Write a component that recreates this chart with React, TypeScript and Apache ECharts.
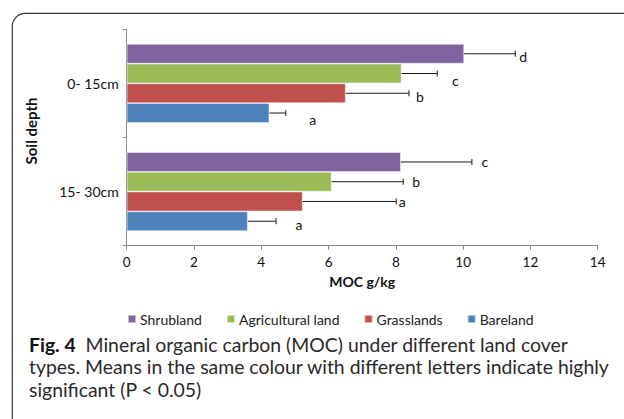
import React, { useEffect, useRef } from "react";
import * as echarts from "echarts";

// Categories from bottom to top on the y axis
const categories = ["15- 30cm", "0- 15cm"];
const seriesNames = ["Shrubland", "Agricultural land", "Grasslands", "Bareland"];
const colors = ["#8064A2", "#9BBB59", "#C0504D", "#4F81BD"];

// Means (MOC g/kg), indexed like categories
const shrubland = [8.15, 10.03];
const agricultural = [6.09, 8.17];
const grasslands = [5.23, 6.51];
const bareland = [3.6, 4.24];

// Upper error (standard deviation)
const shrublandErr = [2.11, 1.52];
const agriculturalErr = [2.13, 1.06];
const grasslandsErr = [2.78, 1.88];
const barelandErr = [0.84, 0.49];

// Significance letters
const shrublandLetters = ["c", "d"];
const agriculturalLetters = ["b", "c"];
const grasslandsLetters = ["a", "b"];
const barelandLetters = ["a", "a"];

const xTicks = { min: 0, max: 14, interval: 2 };

// label placement tweaks (pixels) relative to error-bar end / bar centre
const letterDx = [
  [13, 8],
  [13, 18],
  [6, 11],
  [23, 27],
];
const letterDy = [
  [0, 3],
  [0, 7],
  [0, 3],
  [3, 6],
];

const FONT = "Lato, 'Open Sans', sans-serif";
const CAT_GAP = 0.27;

export default function App() {
  const ref = useRef<HTMLDivElement>(null);
  useEffect(() => {
    if (!ref.current) return;
    const chart = echarts.init(ref.current, null, { renderer: "svg" });
    const means = [shrubland, agricultural, grasslands, bareland];
    const errs = [shrublandErr, agriculturalErr, grasslandsErr, barelandErr];
    const letters = [shrublandLetters, agriculturalLetters, grasslandsLetters, barelandLetters];

    const barSeries = seriesNames.map((name, i) => ({
      name,
      type: "bar",
      data: means[i],
      barGap: "0%",
      barCategoryGap: CAT_GAP * 100 + "%",
      itemStyle: { color: colors[i], borderColor: "rgba(255,255,255,0.55)", borderWidth: 0.8 },
      z: 2,
    }));

    const errSeries = seriesNames.map((name, si) => ({
      name: "err-" + name,
      type: "custom",
      z: 3,
      data: means[si].map((v, ci) => [v, ci, errs[si][ci]]),
      encode: { x: 0, y: 1 },
      renderItem: (params: any, api: any) => {
        const v = api.value(0);
        const ci = api.value(1);
        const e = api.value(2);
        const band = api.size([0, 1])[1];
        const barH = (band * (1 - CAT_GAP)) / 4;
        const off = -(band * (1 - CAT_GAP)) / 2 + barH * (si + 0.5);
        const p0 = api.coord([v, ci]);
        const p1 = api.coord([v + e, ci]);
        const y = p0[1] + off;
        const cap = 3;
        const idx = params.dataIndex;
        return {
          type: "group",
          children: [
            {
              type: "line",
              shape: { x1: p0[0], y1: y, x2: p1[0], y2: y },
              style: { stroke: "#1a1a1a", lineWidth: 1 },
            },
            {
              type: "line",
              shape: { x1: p1[0], y1: y - cap, x2: p1[0], y2: y + cap },
              style: { stroke: "#1a1a1a", lineWidth: 1 },
            },
            {
              type: "text",
              x: p1[0] + letterDx[si][idx],
              y: y + letterDy[si][idx],
              style: {
                text: letters[si][idx],
                fill: "#111",
                font: "14px " + FONT,
                align: "center",
                verticalAlign: "middle",
              },
            },
          ],
        };
      },
    }));

    chart.setOption({
      animation: false,
      grid: { left: 126.7, right: 26.3, top: 29.3, bottom: 173.3, containLabel: false },
      legend: {
        data: seriesNames,
        left: 122,
        top: 307,
        icon: "rect",
        itemWidth: 8,
        itemHeight: 8,
        itemGap: 24,
        textStyle: { fontFamily: FONT, fontSize: 14, color: "#222", padding: [0, 0, 0, -1] },
      },
      xAxis: {
        type: "value",
        min: xTicks.min,
        max: xTicks.max,
        interval: xTicks.interval,
        name: "MOC g/kg",
        nameLocation: "middle",
        nameGap: 29,
        nameTextStyle: { fontFamily: FONT, fontSize: 14, fontWeight: "bold", color: "#111" },
        axisLine: { show: true, lineStyle: { color: "#8a8a8a" } },
        axisTick: { show: true, length: 4, lineStyle: { color: "#8a8a8a" } },
        axisLabel: { fontFamily: FONT, fontSize: 13.5, color: "#111", margin: 9 },
        splitLine: { show: false },
      },
      yAxis: {
        type: "category",
        data: categories,
        axisLine: { show: true, lineStyle: { color: "#8a8a8a" } },
        axisTick: { show: true, length: 4, lineStyle: { color: "#8a8a8a" } },
        axisLabel: { fontFamily: FONT, fontSize: 14, color: "#111", margin: 8 },
      },
      graphic: [
        {
          type: "rect",
          shape: { x: 12.3, y: 13.3, width: 700, height: 500, r: 13 },
          style: { fill: "none", stroke: "#333", lineWidth: 1.2 },
          silent: true,
          z: -1,
        },
        {
          type: "text",
          x: 31,
          y: 131,
          rotation: Math.PI / 2,
          style: {
            text: "Soil depth",
            font: "bold 15px " + FONT,
            fill: "#111",
            align: "center",
            verticalAlign: "middle",
          },
        },
        {
          type: "text",
          left: 29,
          top: 333,
          style: {
            text: "{b|Fig. 4}  Mineral organic carbon (MOC) under different land cover\ntypes. Means in the same colour with different letters indicate highly\nsignificant (P < 0.05)",
            font: "19.4px " + FONT,
            fill: "#2a2a2a",
            lineHeight: 22.5,
            rich: {
              b: { font: "bold 19.4px " + FONT, fill: "#111", lineHeight: 22.5 },
            },
          },
        },
      ],
      series: [...barSeries, ...errSeries],
    });
    return () => chart.dispose();
  }, []);
  return (
    <div
      ref={ref}
      style={{ position: "fixed", left: 0, top: 0, width: 624, height: 419, background: "#fff" }}
    />
  );
}
